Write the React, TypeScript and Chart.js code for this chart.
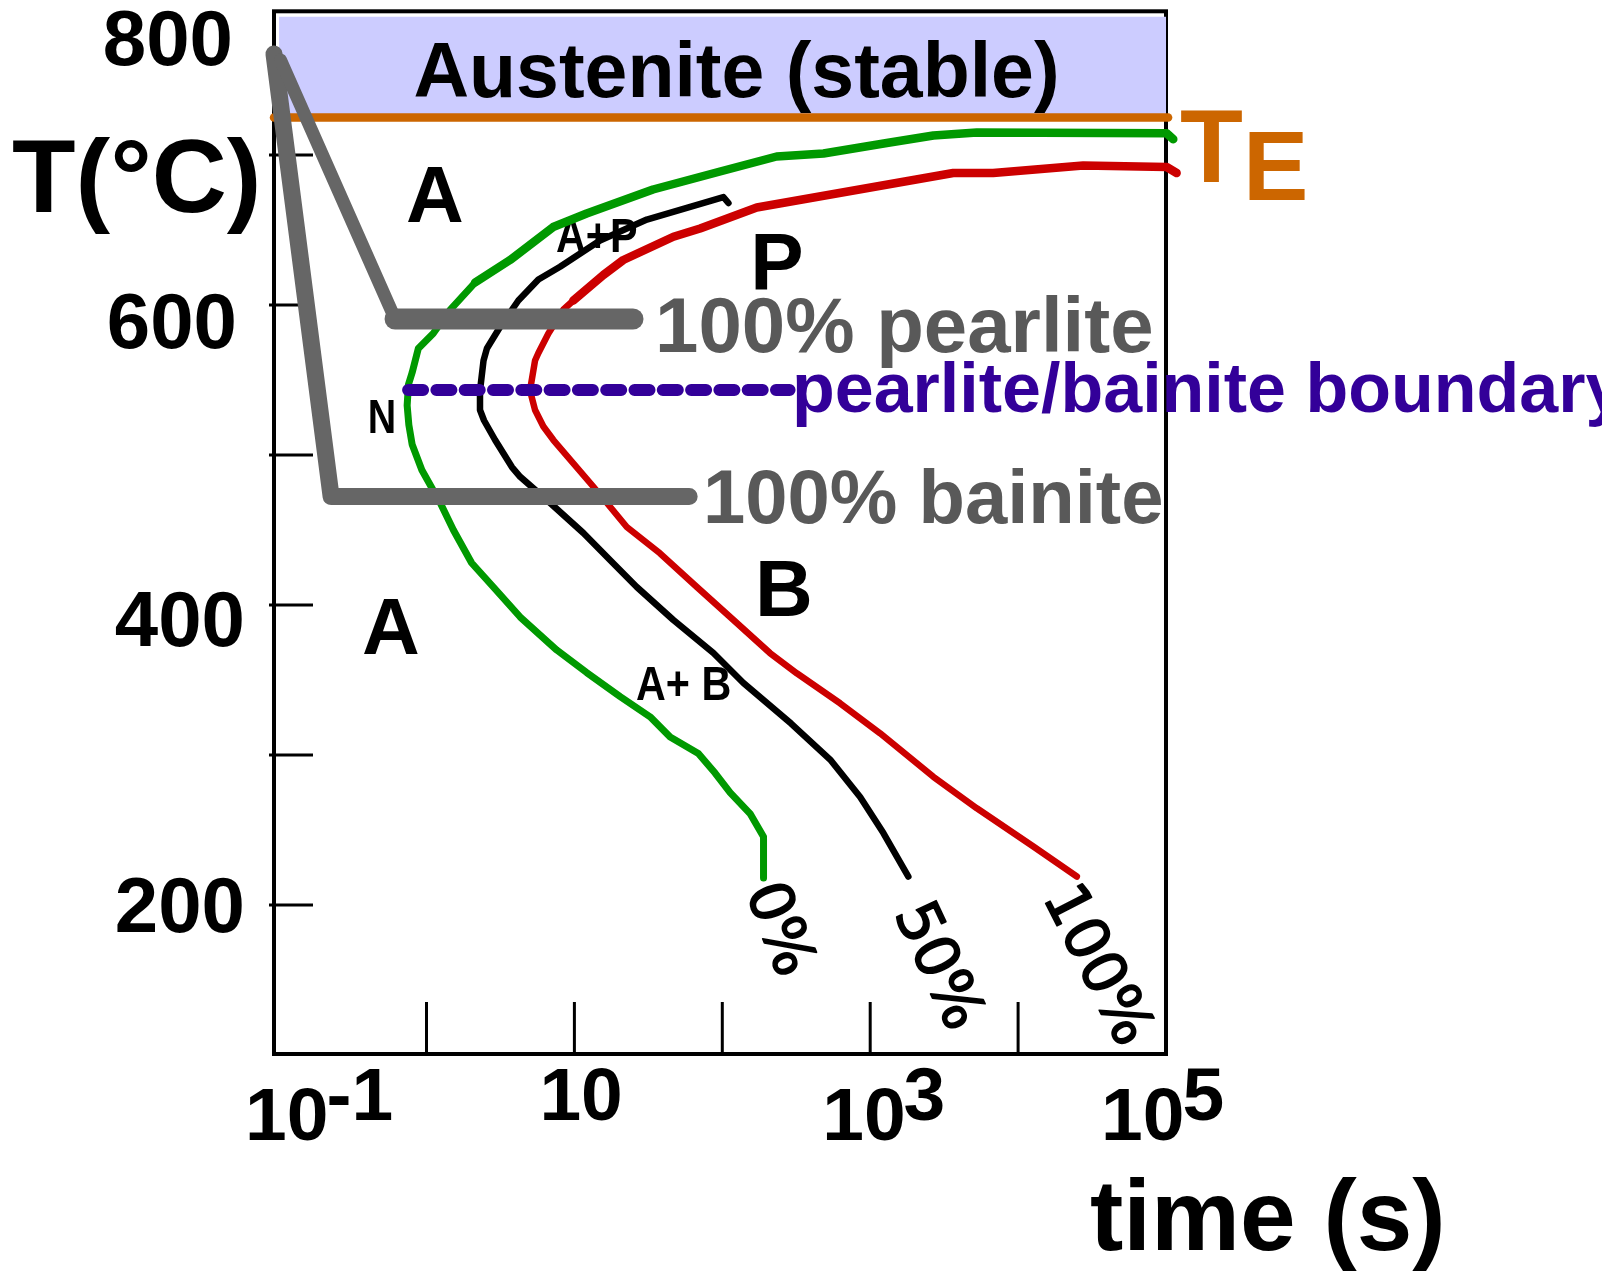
import { useEffect, useRef } from "react";
import { Chart, registerables } from "chart.js";

Chart.register(...registerables);

// ---------------- data (time in s, temperature in °C) ----------------
const curve0Time = [190, 190, 154, 113, 89.4, 68.9, 44.4, 32.5, 20.4, 12.1, 7.6, 4.3, 2.83, 2.02, 1.52, 1.24, 0.93, 0.8, 0.76, 0.74, 0.755, 0.8, 0.88, 1.11, 1.45, 2.13, 3.67, 7.18, 12.1, 34, 96.6, 233, 483, 1294, 2673, 5260, 101000, 112000];
const curve0Temp = [218, 245.5, 261, 275, 288, 301, 312, 325.5, 339, 355, 370, 392, 412, 428, 450, 468, 490, 507, 520, 533, 547, 555, 571, 581, 597, 615, 630, 652, 661, 677, 689, 699, 701, 708, 713, 715, 714.5, 710.5];

const curve50Time = [1811, 1228, 855, 536, 292, 139, 87.1, 46.7, 26.4, 17.4, 11.5, 6.86, 4.3, 3.78, 2.91, 2.45, 2.3, 2.3, 2.43, 2.56, 3.15, 4.18, 5.71, 8, 14.9, 30.9, 101.7, 110];
const curve50Temp = [219, 248, 272, 297, 321, 348, 368, 390, 412, 430, 448, 468, 485.5, 492, 510, 523, 530, 543, 563, 571, 585.5, 603, 617, 625.5, 643, 657, 672, 668];

const curve100Time = [24950, 12680, 5260, 2673, 1167, 626, 319, 210, 119, 67.3, 37.9, 22.6, 16.6, 13.4, 7.21, 6.17, 5.42, 5.01, 5.42, 5.71, 6.67, 8.44, 9.84, 15.7, 21.4, 46.7, 70.8, 171, 3640, 6780, 27540, 101000, 118000];
const curve100Temp = [219, 239, 264.5, 285.5, 314.5, 334.5, 354.5, 368, 390, 412, 434.5, 452, 468, 479, 510, 519, 530, 543, 563, 568, 581, 597, 603, 620, 630, 645.5, 651, 665, 688, 688, 693, 692, 688];

const pearlitePathTime = [0.1031, 0.613, 24.9];
const pearlitePathTemp = [763.3, 590.7, 590.7];

const bainitePathTime = [0.0931, 0.2265, 59.7];
const bainitePathTemp = [767.3, 472.3, 472.3];

const boundaryTime = [0.751, 285];
const boundaryTemp = [543.3, 543.3];

const teTime = [0.0931, 103300];
const teTemp = [725, 725];

const austeniteTime = [0.1007, 100000];
const austeniteTop = [792.2, 792.2];
const austeniteBottom = 725;

const xMin = 0.0931;
const xMax = 100000;
const yMin = 100.7;
const yMax = 795.8;

const xTickValues = [1, 10, 100, 1000, 10000];
const yTickValues = [200, 300, 400, 500, 600, 700];

const xLabelValues = [0.1, 10, 1000, 100000];
const xLabelBase = ["10", "10", "10", "10"];
const xLabelExp = ["-1", "", "3", "5"];

const yLabelValues = [200, 400, 600, 800];
const yLabelText = ["200", "400", "600", "800"];

// ---------------- layout / styles ----------------
const W = 1602;
const H = 1276;
const SANS = '"Liberation Sans", Arial, Helvetica, sans-serif';
const GREEN = "#009900";
const RED = "#cc0000";
const ORANGE = "#cc6600";
const PURPLE = "#330099";
const GRAY = "#666666";
const TEXT_GRAY = "#595959";
const BAND = "#ccccff";

const X_LABEL_LEFT_DX = [-33.6, -35, -48, -65];
const Y_LABEL_LAYOUT = [
  { dy: 27, right: 245 },
  { dy: 41, right: 245 },
  { dy: 43, right: 237 },
  { dy: 60, right: 233 },
];

const pts = (ts: number[], Ts: number[]) => ts.map((t, i) => ({ x: t, y: Ts[i] }));

function drawText(
  ctx: CanvasRenderingContext2D,
  s: string,
  x: number,
  y: number,
  font: string,
  color: string,
  align: CanvasTextAlign = "left",
  sx = 1
) {
  ctx.save();
  ctx.font = font;
  ctx.fillStyle = color;
  ctx.textAlign = align;
  ctx.textBaseline = "alphabetic";
  ctx.translate(x, y);
  ctx.scale(sx, 1);
  ctx.fillText(s, 0, 0);
  ctx.restore();
}

function drawRotated(ctx: CanvasRenderingContext2D, s: string, cx: number, cy: number, deg: number) {
  ctx.save();
  ctx.translate(cx, cy);
  ctx.rotate((deg * Math.PI) / 180);
  ctx.font = '60px "DejaVu Sans", Verdana, sans-serif';
  ctx.fillStyle = "#000";
  ctx.strokeStyle = "#000";
  ctx.lineWidth = 1.6;
  ctx.lineJoin = "round";
  ctx.textAlign = "center";
  ctx.textBaseline = "middle";
  ctx.fillText(s, 0, 0);
  ctx.strokeText(s, 0, 0);
  ctx.restore();
}

const underPlugin = {
  id: "frameTicksRegions",
  beforeDatasetsDraw(chart: any) {
    const { ctx, chartArea: a, scales } = chart;
    ctx.save();
    ctx.strokeStyle = "#000";
    ctx.lineWidth = 4;
    ctx.strokeRect(a.left, a.top, a.right - a.left, a.bottom - a.top);
    ctx.lineWidth = 3;
    for (const v of xTickValues) {
      const px = scales.x.getPixelForValue(v);
      ctx.beginPath();
      ctx.moveTo(px, a.bottom);
      ctx.lineTo(px, a.bottom - 52);
      ctx.stroke();
    }
    for (const v of yTickValues) {
      const py = scales.y.getPixelForValue(v);
      ctx.beginPath();
      ctx.moveTo(a.left - 5, py);
      ctx.lineTo(a.left + 39, py);
      ctx.stroke();
    }
    ctx.restore();

    const big = `bold 80px ${SANS}`;
    drawText(ctx, "A", 435, 222, big, "#000", "center");
    drawText(ctx, "A", 391, 654, big, "#000", "center");
    drawText(ctx, "P", 777, 289, big, "#000", "center");
    drawText(ctx, "B", 784, 616, big, "#000", "center");
    const small = `bold 48px ${SANS}`;
    drawText(ctx, "N", 382, 433, small, "#000", "center", 0.82);
    drawText(ctx, "A+P", 556, 252, small, "#000", "left", 0.86);
    drawText(ctx, "A+ B", 636, 700, small, "#000", "left", 0.86);
  },
};

const overPlugin = {
  id: "labelsOver",
  afterDatasetsDraw(chart: any) {
    const { ctx, scales } = chart;
    drawText(ctx, "Austenite (stable)", 736.5, 97, `bold 77px ${SANS}`, "#000", "center");
    drawText(ctx, "100% pearlite", 655, 352, `bold 78px ${SANS}`, TEXT_GRAY);
    drawText(ctx, "100% bainite", 703, 523, `bold 76px ${SANS}`, TEXT_GRAY);
    drawText(ctx, "pearlite/bainite boundary", 792, 411.7, `bold 70px ${SANS}`, PURPLE);
    drawText(ctx, "T", 1180, 181.7, `bold 103px ${SANS}`, ORANGE);
    drawText(ctx, "E", 1243, 200, `bold 98px ${SANS}`, ORANGE);

    drawRotated(ctx, "0%", 777, 930, 69);
    drawRotated(ctx, "50%", 936, 967, 65);
    drawRotated(ctx, "100%", 1095, 966, 63);

    drawText(ctx, "T(°C)", 12, 212, `bold 104px ${SANS}`, "#000");
    drawText(ctx, "time (s)", 1090, 1250, `bold 100px ${SANS}`, "#000");

    const axFont = `bold 75px ${SANS}`;
    yLabelValues.forEach((v, i) => {
      const py = scales.y.getPixelForValue(v) + Y_LABEL_LAYOUT[i].dy;
      drawText(ctx, yLabelText[i], Y_LABEL_LAYOUT[i].right, py, `bold 78px ${SANS}`, "#000", "right");
    });
    xLabelValues.forEach((v, i) => {
      const left = scales.x.getPixelForValue(v) + X_LABEL_LEFT_DX[i];
      const exp = xLabelExp[i];
      if (!exp) {
        drawText(ctx, xLabelBase[i], left, 1120, axFont, "#000");
      } else {
        ctx.save();
        ctx.font = axFont;
        const w = ctx.measureText(xLabelBase[i]).width;
        ctx.restore();
        drawText(ctx, xLabelBase[i], left, 1140, axFont, "#000");
        drawText(ctx, exp, left + w - 2, 1120, axFont, "#000");
      }
    });
  },
};

export default function App() {
  const ref = useRef<HTMLCanvasElement>(null);
  useEffect(() => {
    const canvas = ref.current;
    if (!canvas) return;
    const line = (extra: any) => ({
      type: "line",
      pointRadius: 0,
      tension: 0,
      fill: false,
      clip: false,
      borderCapStyle: "round",
      borderJoinStyle: "round",
      ...extra,
    });
    const chart = new Chart(canvas, {
      type: "line",
      data: {
        datasets: [
          line({
            label: "Austenite (stable)",
            data: pts(austeniteTime, austeniteTop),
            borderWidth: 0,
            borderColor: "rgba(0,0,0,0)",
            backgroundColor: BAND,
            fill: { value: austeniteBottom },
            clip: undefined,
            order: 10,
          }),
          line({ label: "TE", data: pts(teTime, teTemp), borderColor: ORANGE, borderWidth: 8.5, order: 9 }),
          line({
            label: "0%",
            data: pts(curve0Time, curve0Temp),
            borderColor: GREEN,
            borderWidth: 7,
            segment: { borderWidth: (c: any) => (c.p0.parsed.y >= 612 && c.p1.parsed.y >= 612 ? 8.5 : 7) },
            order: 8,
          }),
          line({ label: "50%", data: pts(curve50Time, curve50Temp), borderColor: "#000", borderWidth: 6.5, order: 7 }),
          line({
            label: "100%",
            data: pts(curve100Time, curve100Temp),
            borderColor: RED,
            borderWidth: 6.5,
            segment: { borderWidth: (c: any) => (c.p0.parsed.y >= 600 && c.p1.parsed.y >= 600 ? 8.5 : 6.5) },
            order: 6,
          }),
          line({
            label: "pearlite/bainite boundary",
            data: pts(boundaryTime, boundaryTemp),
            borderColor: PURPLE,
            borderWidth: 12,
            borderDash: [15, 13.3],
            order: 5,
          }),
          line({ label: "100% bainite", data: pts(bainitePathTime, bainitePathTemp), borderColor: GRAY, borderWidth: 17, order: 4 }),
          line({
            label: "100% pearlite",
            data: pts(pearlitePathTime, pearlitePathTemp),
            borderColor: GRAY,
            borderWidth: 13,
            segment: { borderWidth: (c: any) => (c.p0DataIndex === 0 ? 13 : 21) },
            order: 3,
          }),
        ] as any,
      },
      options: {
        responsive: false,
        animation: false,
        devicePixelRatio: 1,
        layout: { padding: { left: 274, top: 11.3, right: W - 1166, bottom: H - 1054 } },
        scales: {
          x: { type: "logarithmic", min: xMin, max: xMax, display: false },
          y: { type: "linear", min: yMin, max: yMax, display: false },
        },
        plugins: {
          legend: { display: false },
          tooltip: { enabled: false },
          title: { display: false },
        },
        events: [],
      } as any,
      plugins: [underPlugin, overPlugin],
    });
    return () => chart.destroy();
  }, []);
  return (
    <div style={{ position: "fixed", left: 0, top: 0, width: W, height: H, background: "#fff" }}>
      <canvas ref={ref} width={W} height={H} style={{ display: "block" }} />
    </div>
  );
}
